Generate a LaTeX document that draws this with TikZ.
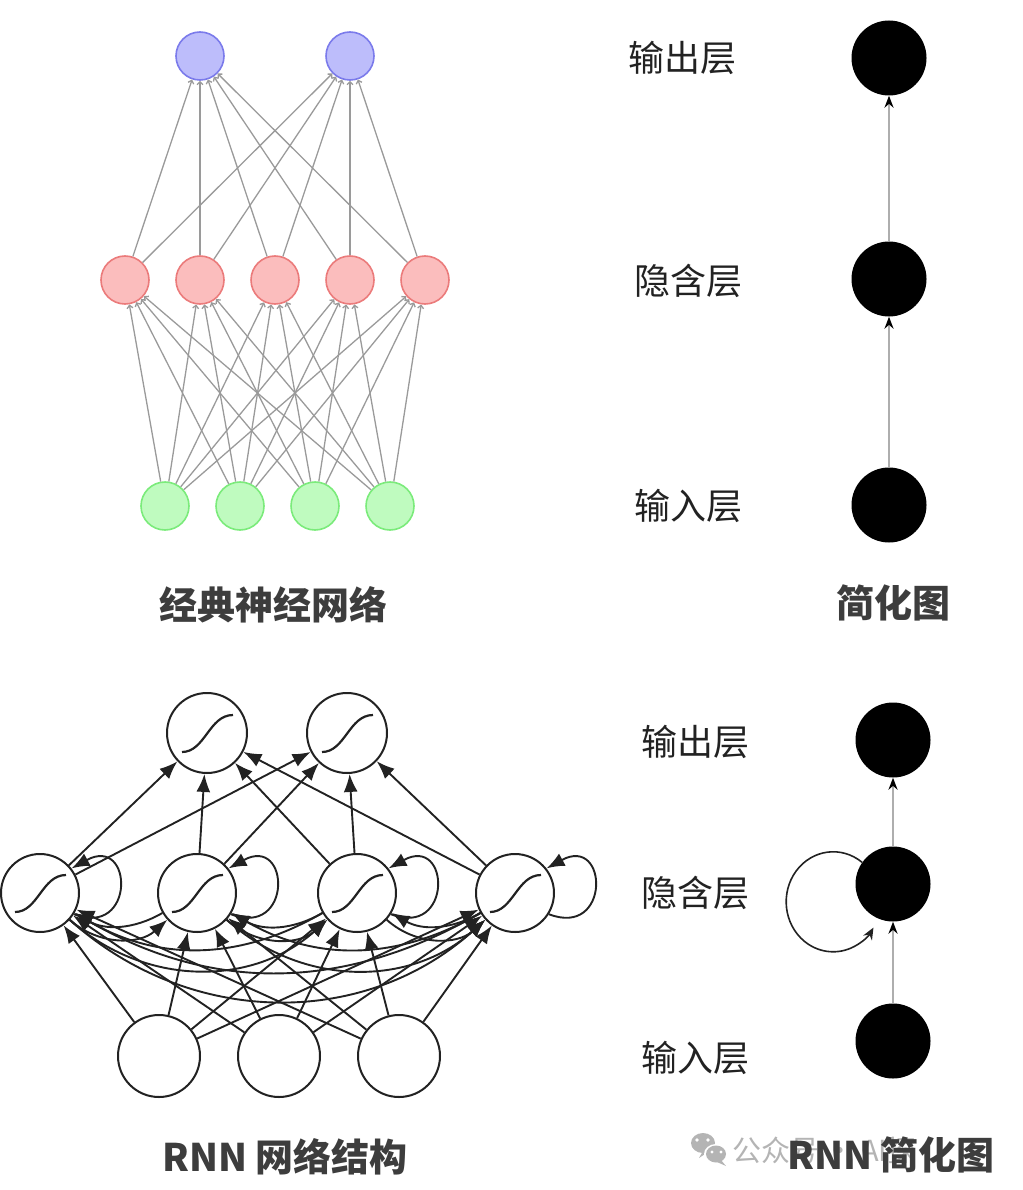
\documentclass[tikz,border=0pt]{standalone}
\usepackage{fontspec}
\newfontfamily\cjk{Noto Sans CJK SC}
\usetikzlibrary{arrows.meta}
\definecolor{blueF}{HTML}{BDBDFB}
\definecolor{blueD}{HTML}{7B7BEB}
\definecolor{redF}{HTML}{FBBDBD}
\definecolor{redD}{HTML}{EB7B7B}
\definecolor{greenF}{HTML}{BFFBBF}
\definecolor{greenD}{HTML}{7BEB7B}
\definecolor{edgeG}{HTML}{9A9A9A}
\definecolor{capC}{HTML}{3D3D3D}
\definecolor{inkC}{HTML}{222222}
\definecolor{wmC}{HTML}{B4B4B4}
\begin{document}
\begin{tikzpicture}[x=1pt,y=1pt,
  tn/.style={circle,line width=1.6pt,minimum size=48pt,inner sep=0pt},
  outn/.style={tn,fill=blueF,draw=blueD},
  hidn/.style={tn,fill=redF,draw=redD},
  inn/.style={tn,fill=greenF,draw=greenD},
  tedge/.style={draw=edgeG,line width=1.3pt,-{Straight Barb[length=3pt,width=6pt]}},
  bigdot/.style={circle,fill=black,minimum size=75pt,inner sep=0pt},
  sedge/.style={draw=edgeG!80,line width=2pt,-{Stealth[black,length=12pt,width=9pt]}},
  rn/.style={circle,draw=inkC,fill=white,line width=2pt,inner sep=0pt},
  rarr/.style={draw=inkC,line width=1.9pt,-{Latex[length=18pt,width=14pt]}},
  sig/.style={draw=inkC,line width=2.2pt},
  sigm/.pic={\draw[sig] (-25,-19) .. controls (-2,-19) and (2,18) .. (26,18);},
  captxt/.style={font=\cjk\bfseries\fontsize{38}{40}\selectfont,text=capC,inner sep=0pt},
  labtxt/.style={font=\cjk\fontsize{36}{38}\selectfont,text=inkC,inner sep=0pt}
]
\useasboundingbox (0,0) rectangle (1022,-1190);

% ---------- classic network ----------
\node[outn] (t1) at (200,-56) {};
\node[outn] (t2) at (350,-56) {};
\foreach \x [count=\i] in {125,200,275,350,425} \node[hidn] (m\i) at (\x,-280) {};
\foreach \x [count=\i] in {165,240,315,390} \node[inn] (g\i) at (\x,-506) {};
\foreach \g in {1,...,4} \foreach \m in {1,...,5} \draw[tedge] (g\g) -- (m\m);
\foreach \m in {1,...,5} \foreach \t in {1,2} \draw[tedge] (m\m) -- (t\t);
\node[captxt] (c1) at (273,-605) {经典神经网络};

% ---------- simplified (top right) ----------
\node[bigdot] (s1) at (889,-58) {};
\node[bigdot] (s2) at (889,-279) {};
\node[bigdot] (s3) at (889,-505) {};
\draw[sedge] (s3) -- (s2);
\draw[sedge] (s2) -- (s1);
\node[labtxt] (l1) at (682,-58) {输出层};
\node[labtxt] (l2) at (688,-281) {隐含层};
\node[labtxt] (l3) at (688,-506) {输入层};
\node[captxt] (c2) at (893,-603) {简化图};

% ---------- RNN ----------
\node[rn,minimum size=80pt] (o1) at (207,-733) {};
\node[rn,minimum size=80pt] (o2) at (347,-733) {};
\foreach \x [count=\i] in {40,197,357,515} \node[rn,minimum size=78pt] (h\i) at (\x,-893) {};
\foreach \x [count=\i] in {159,279,399} \node[rn,minimum size=82pt] (i\i) at (\x,-1056) {};
% input -> hidden
\foreach \a in {1,2,3} \foreach \b in {1,...,4} \draw[rarr] (i\a) -- (h\b);
% hidden -> hidden
\foreach \a/\b in {1/2,1/3,1/4,2/3,2/4,3/4} {
  \draw[rarr] (h\a) to[bend right=42] (h\b);
  \draw[rarr] (h\b) to[bend left=30] (h\a);
}
% hidden -> output
\foreach \a in {1,...,4} \foreach \b in {1,2} \draw[rarr] (h\a) -- (o\b);
% self loops
\foreach \a in {1,...,4} \draw[rarr] (h\a.-32) .. controls +(62,-24) and +(62,34) .. (h\a.38);
% sigmoid glyphs
\foreach \n in {o1,o2,h1,h2,h3,h4} \pic at (\n) {sigm};
\node[captxt] (c3) at (285,-1157) {RNN 网络结构};

% ---------- RNN simplified ----------
\node[bigdot] (b1) at (893,-740) {};
\node[bigdot] (b2) at (893,-884) {};
\node[bigdot] (b3) at (893,-1041) {};
\draw[sedge] (b3) -- (b2);
\draw[sedge] (b2) -- (b1);
\draw[draw=inkC,line width=1.6pt,-{Stealth[length=12pt,width=10pt]}] (b2.145) arc[start angle=52,end angle=329,x radius=47,y radius=50];
\node[labtxt] (l4) at (695,-742) {输出层};
\node[labtxt] (l5) at (695,-893) {隐含层};
\node[labtxt] (l6) at (695,-1058) {输入层};

% watermark
\fill[wmC] (703,-1143) ellipse[x radius=12,y radius=10];
\fill[white] (697,-1140) circle (1.8) (708,-1140) circle (1.8);
\fill[wmC] (703,-1151) -- (699,-1158) -- (708,-1152) -- cycle;
\fill[white] (716,-1154) ellipse[x radius=12,y radius=10];
\fill[wmC] (716,-1154) ellipse[x radius=10,y radius=8.5];
\fill[white] (712,-1152) circle (1.6) (721,-1152) circle (1.6);
\fill[wmC] (721,-1160) -- (726,-1166) -- (717,-1162) -- cycle;
\node[font=\cjk\fontsize{29}{30}\selectfont,text=wmC,anchor=west,inner sep=0pt] (wm) at (732,-1150) {公众号 · AI探};
\node[captxt] (c4) at (891,-1155) {RNN 简化图};
\end{tikzpicture}
\end{document}
